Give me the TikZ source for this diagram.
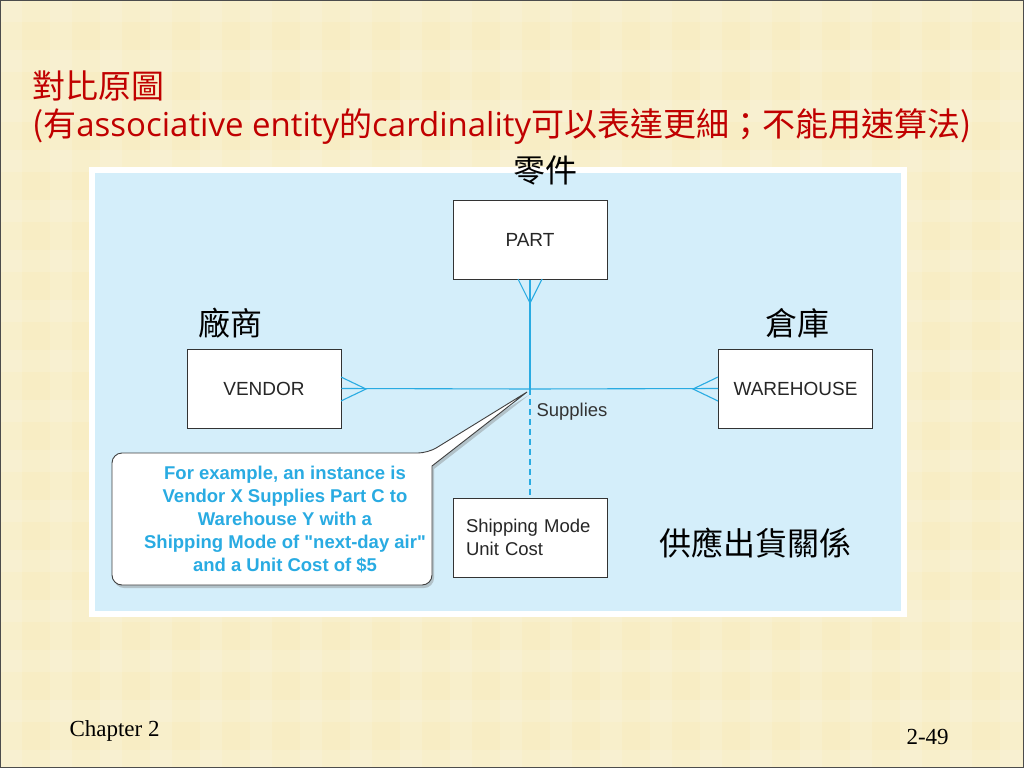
\documentclass[tikz,border=0pt]{standalone}
\usepackage{fontspec}
\setmainfont{Liberation Serif}
\newfontfamily\hel{Liberation Sans}
\newfontfamily\cjk{Noto Sans CJK TC}
\newfontfamily\osans{Open Sans}
\usetikzlibrary{shadows}
\definecolor{bgc}{HTML}{F8EDC4}
\definecolor{skyb}{HTML}{D4EEFA}
\definecolor{lnc}{HTML}{29ABE2}
\definecolor{ttl}{HTML}{C00000}
\begin{document}
\begin{tikzpicture}[x=1pt,y=-1pt,
  ent/.style={draw=black!80,fill=white,line width=0.8pt,minimum width=154pt,minimum height=79pt,font=\hel\fontsize{19}{22}\selectfont,text=black!85},
  rel/.style={draw=lnc,line width=1.1pt},
  cn/.style={font=\cjk\fontsize{32}{36}\selectfont,text=black}]
\useasboundingbox (0,0) rectangle (1024,768);
\fill[bgc] (0,0) rectangle (1024,768);
\foreach \i in {0,...,20}{\fill[white,opacity=0.12] (\i*50,0) rectangle (\i*50+22,768);}
\foreach \i in {0,...,15}{\fill[white,opacity=0.12] (0,\i*50) rectangle (1024,\i*50+22);}
\draw[black!70,line width=1pt] (0.5,0.5) rectangle (1023.5,767.5);
% title
\node[anchor=west,text=ttl,font=\cjk\fontsize{33}{36}\selectfont,inner sep=0pt] (t1) at (32,86) {對比原圖};
\node[anchor=west,text=ttl,font=\fontsize{33}{36}\selectfont,inner sep=0pt] (t2) at (32,127) {\cjk(有\osans associative entity\cjk 的\osans cardinality\cjk 可以表達更細；不能用速算法)};
% panel
\fill[white] (89,167) rectangle (907,617);
\fill[skyb] (95,173) rectangle (901,611);
\node[cn] (lpart) at (545,170) {零件};
\node[ent] (part) at (530,240) {PART};
\node[ent] (vendor) at (264,388.5) {VENDOR};
\node[ent] (wh) at (795.5,388.5) {WAREHOUSE};
\node[ent,text width=128pt,align=left,font=\hel\fontsize{18.5}{23}\selectfont] (ship) at (530,537.5) {Shipping Mode\\Unit Cost};
\coordinate (j) at (530,389);
\draw[rel] (part.south) -- (j);
\draw[rel] (vendor.east) -- (j);
\draw[rel] (wh.west) -- (j);
\draw[rel] (518,279) -- (530,303) -- (542,279);
\draw[rel] (341,377) -- (366,389) -- (341,401);
\draw[rel] (718,377) -- (693,389) -- (718,401);
\draw[rel,dashed,dash pattern=on 6pt off 4pt] (j) -- (ship.north);
\node[anchor=west,font=\hel\fontsize{18.5}{22}\selectfont,text=black!80] (sup) at (533,412) {Supplies};
\node[cn] (lv) at (230,323) {廠商};
\node[cn] (lw) at (797,323) {倉庫};
\node[cn] (lr) at (755,543) {供應出貨關係};
% callout
\coordinate (tip) at (527,392);
\draw[black!75,line width=0.9pt,fill=white,rounded corners=10pt,drop shadow={shadow xshift=2pt,shadow yshift=-3pt,opacity=0.4}]
  (270,453) -- (428,453) [sharp corners] -- (tip) -- (432,466) [rounded corners=10pt] -- (432,585) -- (112,585) -- (112,453) -- cycle;
\node[align=center,text=lnc,font=\hel\bfseries\fontsize{18.5}{23}\selectfont] (co) at (285,519) {For example, an instance is\\Vendor X Supplies Part C to\\Warehouse Y with a\\Shipping Mode of "next-day air"\\and a Unit Cost of \$5};
\node[anchor=west,font=\fontsize{23}{26}\selectfont] (ch) at (66,731) {Chapter 2};
\node[anchor=west,font=\fontsize{23}{26}\selectfont] (pg) at (903,737) {2-49};
\end{tikzpicture}
\end{document}
